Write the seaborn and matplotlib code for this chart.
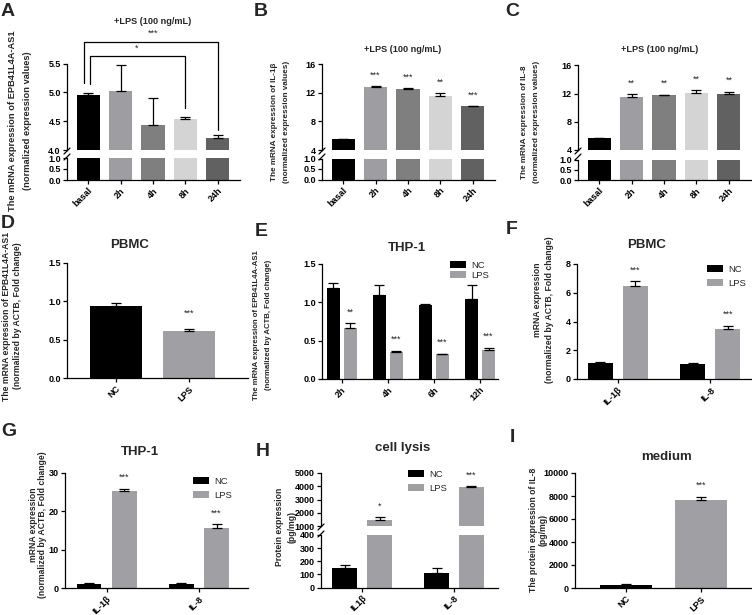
import numpy as np
import pandas as pd
import matplotlib
matplotlib.use('Agg')
import matplotlib.pyplot as plt
import seaborn as sns
from matplotlib.lines import Line2D
from matplotlib.patches import Patch

sns.set_theme(style='ticks')
plt.rcParams['font.family'] = ['Liberation Sans', 'DejaVu Sans']
plt.rcParams['font.weight'] = 'bold'
plt.rcParams['axes.linewidth'] = 0.9
plt.rcParams['axes.edgecolor'] = 'black'

# ---------------- data ----------------
time_cats = ['basal', '2h', '4h', '8h', '24h']
time_colors = ['#000000', '#9e9ea2', '#7f7f7f', '#d4d4d4', '#616161']

a_vals = [4.96, 5.03, 4.43, 4.53, 4.21]
a_err = [0.03, 0.45, 0.47, 0.04, 0.05]

b_vals = [5.5, 12.8, 12.55, 11.55, 10.07]
b_err = [0.05, 0.08, 0.07, 0.38, 0.07]
b_sig = ['', '***', '***', '**', '***']

c_vals = [5.58, 11.5, 11.75, 12.1, 11.9]
c_err = [0.08, 0.45, 0.10, 0.35, 0.35]
c_sig = ['', '**', '**', '**', '**']

conds = ['NC', 'LPS']
cond_colors = ['#000000', '#a0a0a4']

d_vals = [0.94, 0.61]
d_err = [0.04, 0.03]
d_sig = ['', '***']

e_cats = ['2h', '4h', '6h', '12h']
e_nc = [1.19, 1.10, 0.97, 1.04]
e_nc_err = [0.06, 0.13, 0.01, 0.19]
e_lps = [0.66, 0.35, 0.32, 0.38]
e_lps_err = [0.07, 0.02, 0.01, 0.03]
e_sig = ['**', '***', '***', '***']

f_cats = ['IL-1β', 'IL-8']
f_nc = [1.08, 1.06]
f_nc_err = [0.10, 0.05]
f_lps = [6.5, 3.5]
f_lps_err = [0.30, 0.22]
f_sig = ['***', '***']

g_cats = ['IL-1β', 'IL-8']
g_nc = [1.15, 1.15]
g_nc_err = [0.05, 0.05]
g_lps = [25.4, 15.6]
g_lps_err = [0.5, 1.0]
g_sig = ['***', '***']

h_cats = ['IL1β', 'IL-8']
h_nc = [152, 110]
h_nc_err = [20, 42]
h_lps = [1480, 3950]
h_lps_err = [180, 60]
h_sig = ['*', '***']

i_vals = [280, 7680]
i_err = [60, 250]
i_sig = ['', '***']

# ---------------- helpers ----------------
W, H = 752, 615
fig = plt.figure(figsize=(W / 100, H / 100), dpi=100)
fig.patch.set_facecolor('white')

TICK_FS = 6.5
STAR_FS = 6.5
TITLE_FS = 9.5
LAB_FS = 6.2


def add_ax(l, t, r, b):
    return fig.add_axes([l / W, 1 - b / H, (r - l) / W, (b - t) / H])


def ftext(x, y, s, **kw):
    kw.setdefault('ha', 'center')
    kw.setdefault('va', 'center')
    fig.text(x / W, 1 - y / H, s, **kw)


def style(ax, ylim, yticks, xlim, bottom=True):
    sns.despine(ax=ax)
    ax.set_facecolor('white')
    ax.set_ylim(ylim)
    ax.set_yticks(yticks)
    ax.set_xlim(xlim)
    ax.set_xlabel('')
    ax.set_ylabel('')
    ax.tick_params(direction='out', length=3, width=0.9, labelsize=TICK_FS, pad=1.5,
                   colors='black')
    if not bottom:
        ax.spines['bottom'].set_visible(False)
        ax.tick_params(axis='x', bottom=False, labelbottom=False)
    else:
        for lab in ax.get_xticklabels():
            lab.set_rotation(45)
            lab.set_ha('right')
            lab.set_rotation_mode('anchor')
            lab.set_fontweight('bold')


def ebar(ax, xs, ys, errs, cap=3.5):
    ax.errorbar(xs, ys, yerr=[np.zeros(len(ys)), errs], fmt='none', ecolor='black',
                elinewidth=0.9, capsize=cap, capthick=0.9)


def stars(ax, xs, tops, sig, off=8):
    for x, t, s in zip(xs, tops, sig):
        if s:
            ax.annotate(s, xy=(x, t), xytext=(0, off), textcoords='offset points',
                        ha='center', va='center', fontsize=STAR_FS, fontweight='normal',
                        annotation_clip=False)


def single_bars(ax, cats, vals, colors, width, err=None):
    sns.barplot(x=cats, y=vals, hue=cats, palette=colors, legend=False, errorbar=None,
                width=width, saturation=1, linewidth=0, ax=ax)
    if err is not None:
        ebar(ax, np.arange(len(cats)), vals, err)


def hue_bars(ax, cats, nc, lps, width, gap, nc_err=None, lps_err=None):
    df = pd.DataFrame({'cat': list(cats) * 2,
                       'cond': ['NC'] * len(cats) + ['LPS'] * len(cats),
                       'val': list(nc) + list(lps)})
    sns.barplot(data=df, x='cat', y='val', hue='cond', palette=cond_colors, errorbar=None,
                width=width, gap=gap, saturation=1, linewidth=0, ax=ax, legend=False)
    pos = []
    for cont, errs in zip(ax.containers, [nc_err, lps_err]):
        xs = [b.get_x() + b.get_width() / 2 for b in cont]
        ys = [b.get_height() for b in cont]
        pos.append(xs)
        if errs is not None:
            ebar(ax, xs, ys, errs)
    return pos


def legend(ax, x, y, spacing=0.5):
    handles = [Patch(facecolor=c, edgecolor='none') for c in cond_colors]
    ax.legend(handles, conds, loc='upper left', bbox_to_anchor=(x / W, 1 - y / H),
              bbox_transform=fig.transFigure, frameon=False,
              prop={'size': 6.8, 'weight': 'normal'}, handlelength=1.7, handleheight=0.7,
              handletextpad=0.5, labelspacing=spacing, borderpad=0, borderaxespad=0)


def break_marks(x, ys):
    for y in ys:
        fig.add_artist(Line2D([(x - 3) / W, (x + 3) / W], [1 - (y + 3) / H, 1 - (y - 3) / H],
                              color='black', lw=0.9, transform=fig.transFigure))


# ---------------- Panel A ----------------
xl5 = (-0.65, 4.68)
axA = add_ax(67, 63.5, 240, 150)
single_bars(axA, time_cats, a_vals, time_colors, 0.71, a_err)
style(axA, (4.0, 5.5), [4.0, 4.5, 5.0, 5.5], xl5, bottom=False)
axA2 = add_ax(67, 158, 240, 180)
single_bars(axA2, time_cats, a_vals, time_colors, 0.71)
style(axA2, (0, 1.0), [0.0, 0.5, 1.0], xl5)
break_marks(67, [151, 157])
axA.plot([-0.12, -0.12, 4, 4], [5.16, 5.87, 5.87, 4.35], color='black', lw=0.9, clip_on=False)
axA.plot([0.05, 0.05, 3, 3], [5.14, 5.63, 5.63, 4.72], color='black', lw=0.9, clip_on=False)
axA.text(2, 6.02, '***', ha='center', va='center', fontsize=STAR_FS, fontweight='normal')
axA.text(1.5, 5.76, '*', ha='center', va='center', fontsize=STAR_FS, fontweight='normal')
ftext(153, 22, '+LPS (100 ng/mL)', fontsize=6.6)
ftext(13, 121, 'The mRNA expression of EPB41L4A-AS1', rotation=90, fontsize=6.7)
ftext(28, 121, '(normalized expression values)', rotation=90, fontsize=6.7)

# ---------------- Panel B ----------------
axB = add_ax(322, 64, 495, 150)
single_bars(axB, time_cats, b_vals, time_colors, 0.71, b_err)
style(axB, (4, 16), [4, 8, 12, 16], xl5, bottom=False)
stars(axB, range(5), np.add(b_vals, b_err), b_sig)
axB2 = add_ax(322, 158.5, 495, 179.5)
single_bars(axB2, time_cats, b_vals, time_colors, 0.71)
style(axB2, (0, 1.0), [0.0, 0.5, 1.0], xl5)
break_marks(322, [151, 157])
ftext(403, 50, '+LPS (100 ng/mL)', fontsize=6.6)
ftext(275, 122, 'The mRNA expression of IL-1β', rotation=90, fontsize=5.9)
ftext(286, 122, '(normalized expression values)', rotation=90, fontsize=5.9)

# ---------------- Panel C ----------------
axC = add_ax(578, 65.5, 751, 149.5)
single_bars(axC, time_cats, c_vals, time_colors, 0.71, c_err)
style(axC, (4, 16), [4, 8, 12, 16], xl5, bottom=False)
stars(axC, range(5), np.add(c_vals, c_err), c_sig)
axC2 = add_ax(578, 159.5, 751, 180)
single_bars(axC2, time_cats, c_vals, time_colors, 0.71)
style(axC2, (0, 1.0), [0.0, 0.5, 1.0], xl5)
break_marks(578, [151, 157])
ftext(660, 50, '+LPS (100 ng/mL)', fontsize=6.6)
ftext(525, 122, 'The mRNA expression of IL-8', rotation=90, fontsize=5.9)
ftext(536, 122, '(normalized expression values)', rotation=90, fontsize=5.9)

# ---------------- Panel D ----------------
axD = add_ax(67, 263, 248, 378)
single_bars(axD, conds, d_vals, cond_colors, 0.71, d_err)
style(axD, (0, 1.5), [0.0, 0.5, 1.0, 1.5], (-0.67, 1.81))
stars(axD, range(2), np.add(d_vals, d_err), d_sig, off=11)
ftext(130, 245, 'PBMC', fontsize=TITLE_FS)
ftext(7, 316, 'The mRNA expression of EPB41L4A-AS1', rotation=90, fontsize=LAB_FS)
ftext(18, 316, '(normalized by ACTB, Fold change)', rotation=90, fontsize=LAB_FS)

# ---------------- Panel E ----------------
axE = add_ax(322, 264, 498, 379)
pE = hue_bars(axE, e_cats, e_nc, e_lps, 0.74, 0.22, e_nc_err, e_lps_err)
style(axE, (0, 1.5), [0.0, 0.5, 1.0, 1.5], (-0.43, 3.39))
stars(axE, pE[1], np.add(e_lps, e_lps_err), e_sig)
legend(axE, 450, 261, spacing=0.1)
ftext(407, 248, 'THP-1', fontsize=TITLE_FS)
ftext(257, 325, 'The mRNA expression of EPB41L4A-AS1', rotation=90, fontsize=5.6)
ftext(268, 325, '(normalized by ACTB, Fold change)', rotation=90, fontsize=5.6)

# ---------------- Panel F ----------------
axF = add_ax(577, 264, 752, 379)
pF = hue_bars(axF, f_cats, f_nc, f_lps, 0.76, 0.29, f_nc_err, f_lps_err)
style(axF, (0, 8), [0, 2, 4, 6, 8], (-0.44, 1.45))
stars(axF, pF[1], np.add(f_lps, f_lps_err), f_sig)
legend(axF, 707, 265)
ftext(647, 245, 'PBMC', fontsize=TITLE_FS)
ftext(538, 300, 'mRNA expression', rotation=90, fontsize=LAB_FS)
ftext(549, 310, '(normalized by ACTB, Fold change)', rotation=90, fontsize=LAB_FS)

# ---------------- Panel G ----------------
axG = add_ax(65, 473, 248, 588)
pG = hue_bars(axG, g_cats, g_nc, g_lps, 0.76, 0.29, g_nc_err, g_lps_err)
style(axG, (0, 30), [0, 10, 20, 30], (-0.45, 1.53))
stars(axG, pG[1], np.add(g_lps, g_lps_err), g_sig)
legend(axG, 193, 477)
ftext(140, 452, 'THP-1', fontsize=TITLE_FS)
ftext(33, 525, 'mRNA expression', rotation=90, fontsize=LAB_FS)
ftext(43, 525, '(normalized by ACTB, Fold change)', rotation=90, fontsize=LAB_FS)

# ---------------- Panel H ----------------
xlH = (-0.45, 1.48)
axH = add_ax(321, 473, 498, 526)
pH = hue_bars(axH, h_cats, h_nc, h_lps, 0.76, 0.29, None, h_lps_err)
style(axH, (1000, 5000), [1000, 2000, 3000, 4000, 5000], xlH, bottom=False)
stars(axH, pH[1], np.add(h_lps, h_lps_err), h_sig)
legend(axH, 408, 470)
axH2 = add_ax(321, 535, 498, 587.5)
hue_bars(axH2, h_cats, h_nc, h_lps, 0.76, 0.29, h_nc_err, None)
style(axH2, (0, 400), [0, 100, 200, 300, 400], xlH)
break_marks(321, [527, 534])
ftext(403, 448, 'cell lysis', fontsize=TITLE_FS)
ftext(280, 527, 'Protein expression', rotation=90, fontsize=LAB_FS)
ftext(292, 527, '(pg/mg)', rotation=90, fontsize=LAB_FS)

# ---------------- Panel I ----------------
axI = add_ax(575, 473, 752, 588)
single_bars(axI, conds, i_vals, cond_colors, 0.69, i_err)
style(axI, (0, 10000), [0, 2000, 4000, 6000, 8000, 10000], (-0.68, 1.68))
stars(axI, range(2), np.add(i_vals, i_err), i_sig)
ftext(667, 457, 'medium', fontsize=TITLE_FS)
ftext(533, 530, 'The protein expression of IL-8', rotation=90, fontsize=LAB_FS)
ftext(543, 530, '(pg/mg)', rotation=90, fontsize=LAB_FS)

# ---------------- panel letters ----------------
for (x, y, s) in [(8, 12, 'A'), (261, 12, 'B'), (512, 12, 'C'),
                  (8, 224, 'D'), (261, 231, 'E'), (512, 229, 'F'),
                  (9, 432, 'G'), (263, 451, 'H'), (512, 438, 'I')]:
    ftext(x, y, s, fontsize=14)

fig.savefig('out.png', dpi=100, facecolor='white')
